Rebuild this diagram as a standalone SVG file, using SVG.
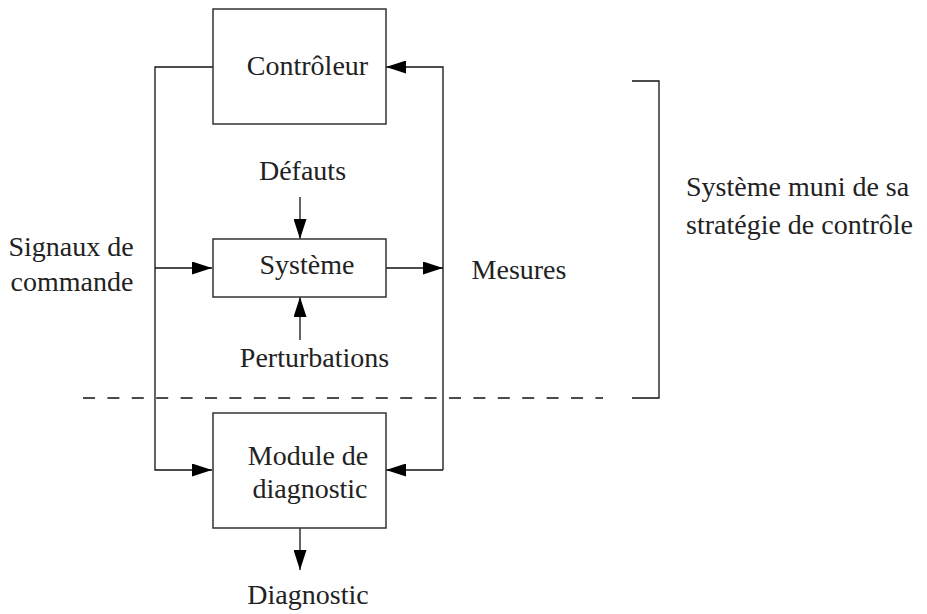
<svg xmlns="http://www.w3.org/2000/svg" width="927" height="614" viewBox="0 0 927 614">
<defs>
<marker id="ah" markerUnits="userSpaceOnUse" markerWidth="20" markerHeight="13" refX="20" refY="6.5" orient="auto">
<path d="M0,0 L20,6.5 L0,13 z" fill="#000"/>
</marker>
</defs>
<rect width="927" height="614" fill="#fff"/>
<g id="connectors" fill="none" stroke="#111" stroke-width="1.3">
<path d="M213,67 H155 V470 H212" marker-end="url(#ah)"/>
<path d="M155,268 H212" marker-end="url(#ah)"/>
<path d="M443,470 V67 H386" marker-end="url(#ah)"/>
<path d="M443,470 H386" marker-end="url(#ah)"/>
<path d="M386,268 H443" marker-end="url(#ah)"/>
<path d="M300,197 V239" marker-end="url(#ah)"/>
<path d="M300,340 V297" marker-end="url(#ah)"/>
<path d="M300,528 V570" marker-end="url(#ah)"/>
<path d="M83,398 H603" stroke-dasharray="12 12.4"/>
<path d="M632,81 H659 V398 H632"/>
</g>
<g id="controleur">
<rect x="213" y="9" width="173" height="115" fill="#fff" stroke="#333" stroke-width="1.5"/>
<text x="307.5" y="75" text-anchor="middle" font-family="'Liberation Serif'" font-size="28" fill="#222">Contrôleur</text>
</g>
<g id="systeme">
<rect x="213" y="239" width="173" height="58" fill="#fff" stroke="#333" stroke-width="1.5"/>
<text x="307" y="274" text-anchor="middle" font-family="'Liberation Serif'" font-size="28" fill="#222">Système</text>
</g>
<g id="module">
<rect x="213" y="413" width="173" height="115" fill="#fff" stroke="#333" stroke-width="1.5"/>
<text x="308" y="465" text-anchor="middle" font-family="'Liberation Serif'" font-size="28" fill="#222">Module de</text>
<text x="310" y="498" text-anchor="middle" font-family="'Liberation Serif'" font-size="28" fill="#222">diagnostic</text>
</g>
<g id="labels">
<text x="302.5" y="180" text-anchor="middle" font-family="'Liberation Serif'" font-size="28" fill="#222">Défauts</text>
<text x="314.5" y="367" text-anchor="middle" font-family="'Liberation Serif'" font-size="28" fill="#222">Perturbations</text>
<text x="308" y="604" text-anchor="middle" font-family="'Liberation Serif'" font-size="28" fill="#222">Diagnostic</text>
<text x="71" y="256" text-anchor="middle" font-family="'Liberation Serif'" font-size="28" fill="#222">Signaux de</text>
<text x="72" y="291" text-anchor="middle" font-family="'Liberation Serif'" font-size="28" fill="#222">commande</text>
<text x="519" y="279" text-anchor="middle" font-family="'Liberation Serif'" font-size="28" fill="#222">Mesures</text>
<text x="686" y="196" font-family="'Liberation Serif'" font-size="28" fill="#222">Système muni de sa</text>
<text x="686" y="234" font-family="'Liberation Serif'" font-size="28" fill="#222">stratégie de contrôle</text>
</g>
</svg>
